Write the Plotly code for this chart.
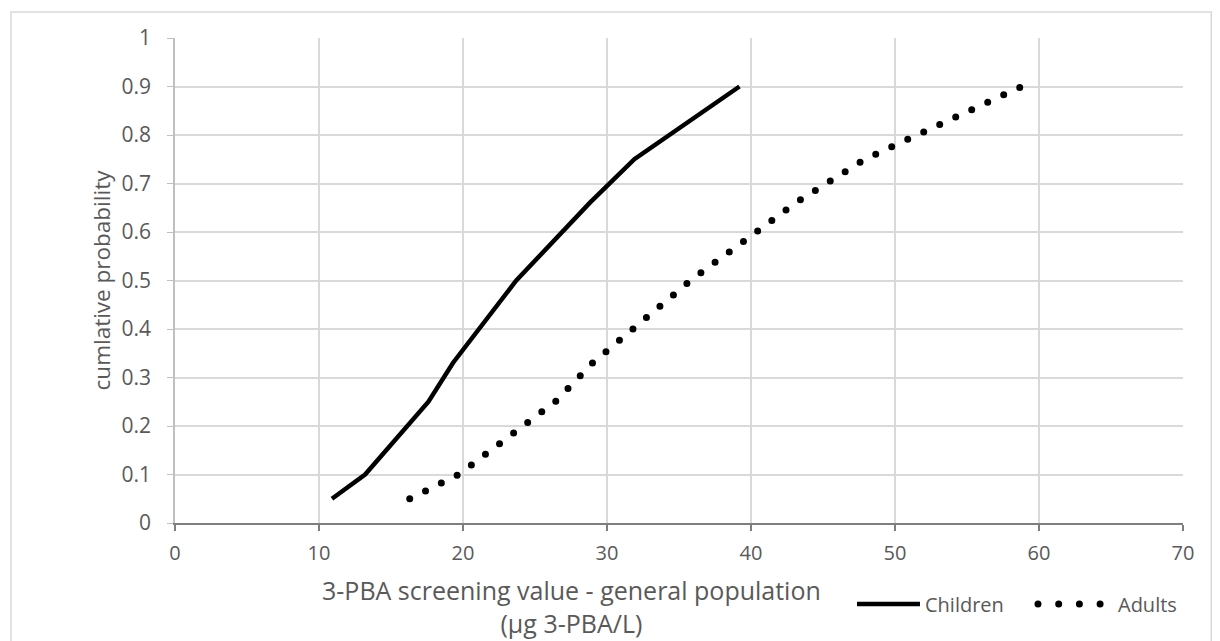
import math
import plotly.graph_objects as go

# Data
prob = [0.05, 0.10, 0.25, 0.33, 0.50, 0.66, 0.75, 0.90]
children_x = [10.9, 13.2, 17.6, 19.3, 23.7, 28.8, 31.9, 39.2]
adults_x = [16.3, 19.7, 26.4, 29.0, 35.8, 43.1, 47.9, 58.8]
x_ticks = [0, 10, 20, 30, 40, 50, 60, 70]
y_ticks = [0, 0.1, 0.2, 0.3, 0.4, 0.5, 0.6, 0.7, 0.8, 0.9, 1]
y_tick_text = ["0", "0.1", "0.2", "0.3", "0.4", "0.5", "0.6", "0.7", "0.8", "0.9", "1"]

TXT = "#595959"
FONT = "Open Sans, DejaVu Sans, sans-serif"

W, H = 1220, 641
ML, MR, MT, MB = 175, 37, 38, 118
X_RANGE = [0, 70]
Y_RANGE = [0, 1]

# spacing of the round dots so that the dotted line ends (almost exactly) on a dot
px_x = (W - ML - MR) / (X_RANGE[1] - X_RANGE[0])
px_y = (H - MT - MB) / (Y_RANGE[1] - Y_RANGE[0])
path_len = sum(math.hypot((adults_x[i + 1] - adults_x[i]) * px_x, (prob[i + 1] - prob[i]) * px_y)
               for i in range(len(adults_x) - 1))
n_gaps = max(1, round(path_len / 17.7))
gap = path_len / n_gaps * 0.997

fig = go.Figure()
fig.add_trace(go.Scatter(
    x=children_x, y=prob, mode="lines", name="Children", legend="legend",
    line=dict(color="black", width=4.5),
))
fig.add_trace(go.Scatter(
    x=adults_x, y=prob, mode="lines", name="Adults", legend="legend2",
    line=dict(color="black", width=7, dash="0px,%.3fpx" % gap),
))

legend_common = dict(orientation="h", y=-0.167, yanchor="middle", xanchor="left",
                     font=dict(family=FONT, size=20, color=TXT), bgcolor="rgba(0,0,0,0)")

fig.update_layout(
    width=W, height=H,
    margin=dict(l=ML, r=MR, t=MT, b=MB),
    paper_bgcolor="white", plot_bgcolor="white",
    showlegend=True,
    legend=dict(x=0.6716, itemwidth=63, **legend_common),
    legend2=dict(x=0.8482, itemwidth=78, **legend_common),
    xaxis=dict(range=X_RANGE, tickvals=x_ticks, showgrid=True, gridcolor="#d9d9d9", gridwidth=1.5,
               showline=True, linecolor="#7f7f7f", linewidth=2, ticks="outside", ticklen=6,
               tickcolor="#7f7f7f", tickwidth=1.5, zeroline=False, ticklabelstandoff=5,
               tickfont=dict(family=FONT, size=20, color=TXT)),
    yaxis=dict(range=Y_RANGE, tickvals=y_ticks, ticktext=y_tick_text, showgrid=True,
               gridcolor="#d9d9d9", gridwidth=1.5,
               showline=True, linecolor="#bfbfbf", linewidth=1.5, ticks="outside", ticklen=6,
               tickcolor="#bfbfbf", zeroline=False, ticklabelstandoff=12,
               tickfont=dict(family=FONT, size=21, color=TXT),
               title=dict(text="cumlative probability", standoff=5,
                          font=dict(family=FONT, size=22.5, color=TXT))),
)

fig.add_annotation(xref="paper", yref="paper", x=0.393, xanchor="center", y=-0.173, yanchor="middle",
                   text="3-PBA screening value - general population<br>(µg 3-PBA/L)",
                   showarrow=False, font=dict(family=FONT, size=25, color=TXT))

fig.add_shape(type="rect", xref="paper", yref="paper", x0=-0.1627, x1=1.028, y0=-0.27, y1=1.0536,
              line=dict(color="#d9d9d9", width=1.5), layer="below")

post = """
document.body.style.margin = '0';
var gd = document.querySelector('.plotly-graph-div');
function fixLines(){
  document.querySelectorAll('.scatterlayer path.js-line').forEach(function(p){
    var cs = getComputedStyle(p).strokeDasharray;
    if (cs && cs !== 'none') { p.style.strokeLinecap = 'round'; }
  });
  var l1 = document.querySelector('g.legend path.js-line');
  if (l1) { l1.setAttribute('d', 'M5,0h63'); }
  var l2 = document.querySelector('g.legend2 path.js-line');
  if (l2) {
    l2.setAttribute('d', 'M8,0h62.6');
    l2.style.strokeDasharray = '0px,20.7px';
    l2.style.strokeWidth = '7px';
    l2.style.strokeLinecap = 'round';
  }
  document.querySelectorAll('.infolayer [clip-path]').forEach(function(e){ e.removeAttribute('clip-path'); });
}
fixLines();
if (gd && gd.on) { gd.on('plotly_afterplot', fixLines); }
setTimeout(fixLines, 50);
setTimeout(fixLines, 300);
"""
fig.write_html("out.html", post_script=post, config={"displayModeBar": False})
